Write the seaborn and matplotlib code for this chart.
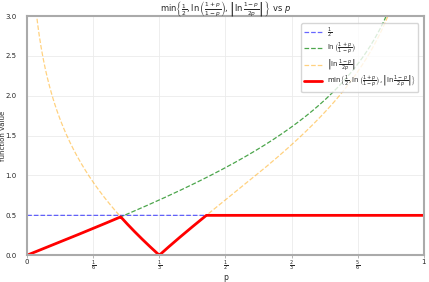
import numpy as np
import pandas as pd
import seaborn as sns
import matplotlib
matplotlib.use("Agg")
import matplotlib.pyplot as plt

# curves as given in the chart title
p = np.linspace(0.0005, 0.9995, 2000)
half = np.full_like(p, 0.5)
ln_ratio = np.log((1 + p) / (1 - p))
abs_ln = np.abs(np.log((1 - p) / (2 * p)))
p_full = np.concatenate([[0.0], p, [1.0]])
min_curve = np.concatenate([[0.0], np.minimum(np.minimum(half, ln_ratio), abs_ln), [0.5]])

xtick_pos = [0, 1/6, 1/3, 1/2, 2/3, 5/6, 1]
xtick_labels = ['0', r'$\frac{1}{6}$', r'$\frac{1}{3}$', r'$\frac{1}{2}$',
                r'$\frac{2}{3}$', r'$\frac{5}{6}$', '1']

sns.set_theme(style="whitegrid")
plt.rcParams['font.family'] = ['DejaVu Sans']

fig = plt.figure(figsize=(4.29, 2.82), dpi=100)
ax = fig.add_axes([0.063, 0.095, 0.925, 0.848])

sns.lineplot(x=p, y=half, ax=ax, color='blue', linestyle='--', linewidth=0.9, alpha=0.6,
             label=r'$\frac{1}{2}$')
sns.lineplot(x=p, y=ln_ratio, ax=ax, color='green', linestyle='--', linewidth=0.9, alpha=0.7,
             label=r'$\ln\left(\frac{1+p}{1-p}\right)$')
sns.lineplot(x=p, y=abs_ln, ax=ax, color='orange', linestyle='--', linewidth=0.9, alpha=0.5,
             label=r'$\left|\ln\frac{1-p}{2p}\right|$')
sns.lineplot(x=p_full, y=min_curve, ax=ax, color='red', linewidth=2,
             label=r'$\min\left\{\frac{1}{2}, \ln\left(\frac{1+p}{1-p}\right), \left|\ln\frac{1-p}{2p}\right|\right\}$')

ax.set_xlim(0, 1)
ax.set_ylim(0, 3)
ax.set_xticks(xtick_pos)
ax.set_xticklabels(xtick_labels)
ax.set_yticks(np.arange(0, 3.01, 0.5))
ax.tick_params(axis='y', labelsize=5, pad=1.5)
ax.tick_params(axis='x', labelsize=5, pad=0.5, length=2, width=0.6, color='#aaaaaa', bottom=True)
ax.set_xlabel('p', fontsize=5.5, labelpad=0)
ax.set_ylabel('function value', fontsize=5)
ax.yaxis.set_label_coords(-0.053, 0.5)
ax.set_title(r'$\min\left\{\frac{1}{2}, \ln\left(\frac{1+p}{1-p}\right), \left|\ln\frac{1-p}{2p}\right|\right\}$ vs $p$',
             fontsize=6, pad=3)
ax.grid(True, color='#ebebeb', linewidth=0.6)
for s in ax.spines.values():
    s.set_color('#aaaaaa')
    s.set_linewidth(1.5)
ax.legend(loc='upper right', fontsize=5, frameon=True, handlelength=2.6, borderpad=0.35,
          labelspacing=0.1, bbox_to_anchor=(0.995, 0.985))

plt.savefig("out.png", dpi=100)
